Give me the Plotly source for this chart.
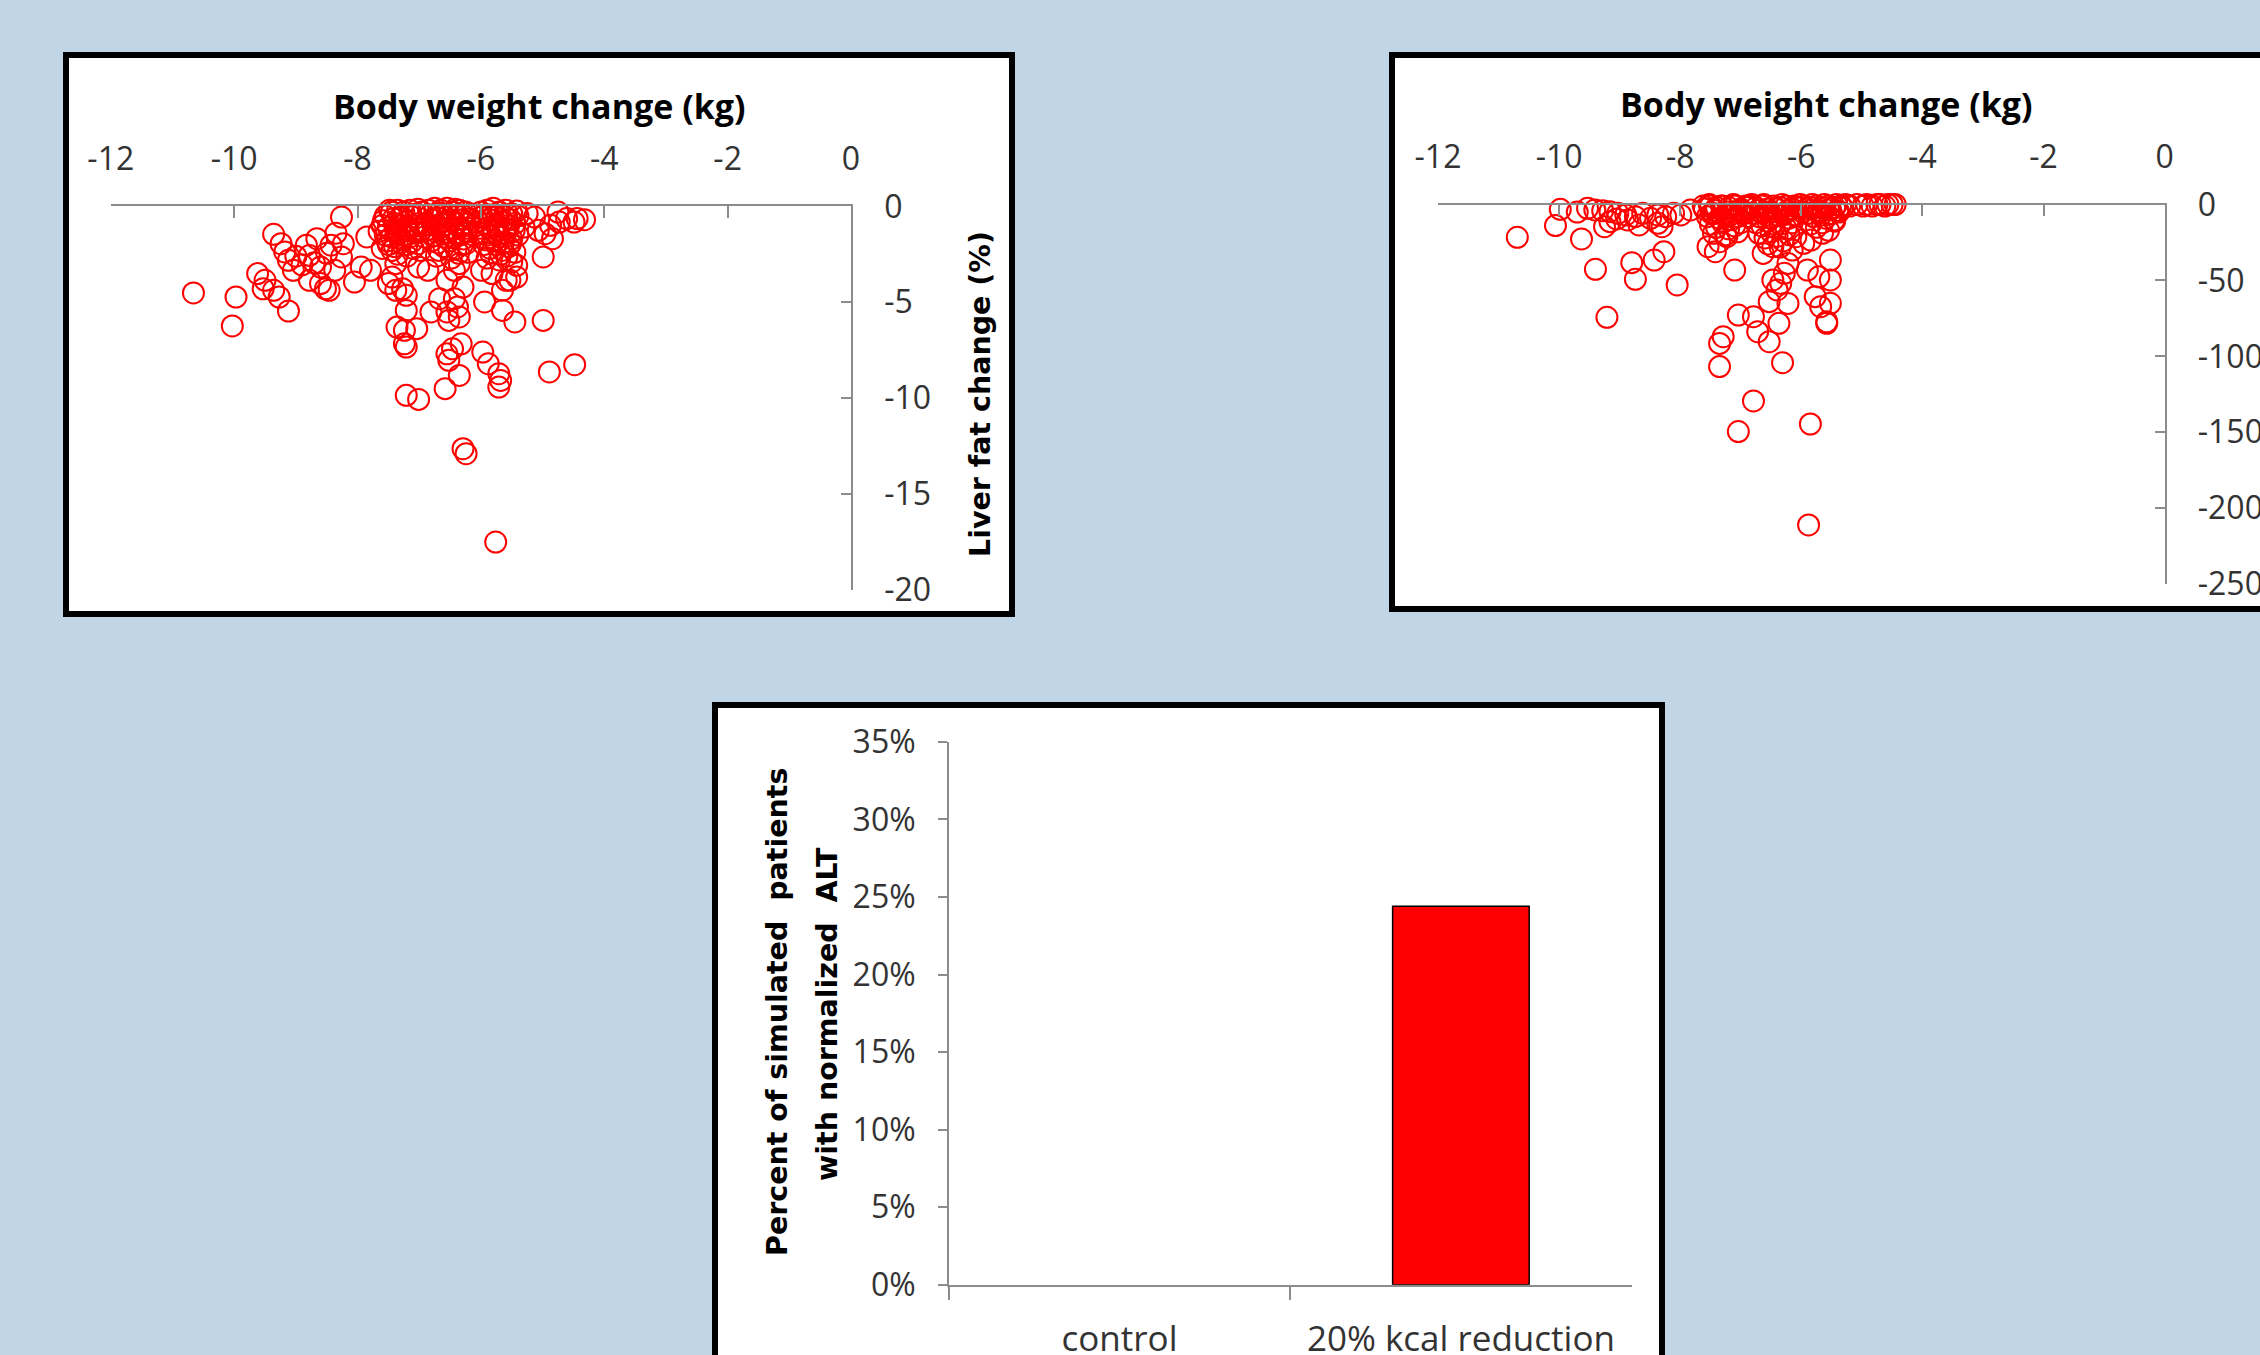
import plotly.graph_objects as go

W, H = 2260, 1355

# ---- Panel A: liver fat change (%) vs body weight change (kg) ----
wt_a = [
    # left spread
    -10.66, -9.97, -10.03, -9.36, -9.24, -9.18, -9.12, -9.04, -9.62, -9.50, -9.53, -9.36,
    -9.27, -9.12, -8.83, -8.66, -8.78, -8.60, -8.78, -8.60, -8.52, -8.46, -8.43, -8.26,
    -8.23, -8.26, -8.37, -8.05, -7.85, -7.94, -7.79, -9.00, -8.90, -8.50, -8.35, -8.70,
    # cluster near -7.3 kg
    -7.55, -7.45, -7.35, -7.25, -7.15, -7.05, -6.95, -7.60, -7.50, -7.40, -7.30, -7.20,
    -7.10, -7.00, -7.55, -7.45, -7.35, -7.25, -7.15, -7.05, -7.50, -7.40, -7.30, -7.20,
    -7.10, -7.35, -7.20, -6.98, -7.65, -7.42, -7.18, -7.28, -6.92,
    -7.48, -7.32, -7.12, -7.02, -7.58, -7.38, -7.22, -7.08, -6.96, -7.52, -7.28, -7.12,
    -7.44, -7.02, -7.60,
    # cluster near -6.5 kg
    -6.85, -6.75, -6.65, -6.55, -6.45, -6.35, -6.25, -6.15, -6.80, -6.70, -6.60, -6.50,
    -6.40, -6.30, -6.20, -6.85, -6.75, -6.65, -6.55, -6.45, -6.35, -6.25, -6.80, -6.70,
    -6.60, -6.50, -6.40, -6.30, -6.20, -6.72, -6.48, -6.62, -6.38, -6.58,
    -6.82, -6.68, -6.52, -6.42, -6.28, -6.18, -6.88, -6.72, -6.56, -6.34, -6.22, -6.78,
    -6.62, -6.44, -6.28, -6.12, -6.68, -6.52, -6.36, -6.24,
    # cluster near -5.7 kg
    -6.00, -5.90, -5.80, -5.70, -5.60, -5.50, -5.40, -6.05, -5.95, -5.85, -5.75, -5.65,
    -5.55, -5.45, -6.00, -5.90, -5.80, -5.70, -5.60, -5.50, -5.40, -5.95, -5.85, -5.75,
    -5.65, -5.55, -5.45, -5.90, -5.70, -5.50, -5.80, -5.60,
    -5.98, -5.86, -5.74, -5.62, -5.52, -5.42, -6.02, -5.88, -5.72, -5.58, -5.46, -5.92,
    -5.78, -5.64, -5.52, -5.84, -5.68, -5.58,
    # right tail
    -5.13, -5.07, -4.96, -4.87, -4.75, -4.73, -4.61, -4.49, -4.44, -4.32, -4.84, -5.25, -5.30,
    # deeper responders
    -4.99, -4.99, -4.89, -4.48, -5.45, -5.65, -5.42, -5.59, -5.71, -5.68, -5.71, -5.88,
    -5.97, -6.58, -6.35, -6.52, -6.55, -6.46, -6.32, -7.21, -7.01, -6.29, -6.24, -5.76,
    -7.24, -7.24, -7.21, -7.04, -7.36, -6.81, -6.55, -6.52, -6.35, -6.67, -6.43, -6.38,
    -7.21, -7.21, -7.38, -7.50, -7.27, -5.94, -5.65, -5.53, -5.42, -5.82, -5.99, -6.86,
    -7.01, -7.38, -7.44, -6.43, -6.35, -6.55, -6.29,
]
fat_a = [
    -4.52, -4.73, -6.24, -1.46, -1.95, -2.38, -2.82, -3.34, -3.51, -3.86, -4.30, -4.38,
    -4.73, -5.46, -2.03, -1.69, -2.56, -3.17, -3.86, -4.03, -4.30, -4.38, -2.03, -0.56,
    -1.95, -2.64, -3.34, -3.95, -1.60, -3.17, -3.34, -2.60, -3.05, -2.45, -1.40, -2.95,
    -0.5, -0.3, -0.2, -0.3, -0.2, -0.4, -0.3, -1.0, -1.1, -0.9, -1.0, -0.8,
    -1.0, -0.9, -1.5, -1.6, -1.4, -1.5, -1.6, -1.4, -2.0, -2.1, -1.9, -2.0,
    -2.2, -2.5, -2.6, -2.3, -1.3, -0.65, -1.25, -0.55, -1.6,
    -0.2, -0.6, -0.55, -0.15, -0.75, -1.25, -1.1, -1.3, -1.05, -1.8, -1.75, -1.85,
    -2.3, -1.95, -2.2,
    -0.2, -0.1, -0.2, -0.1, -0.3, -0.2, -0.3, -0.4, -0.7, -0.6, -0.8, -0.7,
    -0.9, -0.7, -0.9, -1.2, -1.3, -1.1, -1.4, -1.2, -1.5, -1.3, -1.8, -1.9,
    -2.1, -1.8, -2.2, -2.0, -2.4, -2.6, -2.7, -0.4, -0.5, -1.6,
    -0.45, -0.35, -0.45, -0.15, -0.5, -0.65, -0.95, -1.0, -0.95, -1.1, -1.15, -1.55,
    -1.45, -1.65, -1.7, -1.5, -2.3, -2.25, -2.45, -1.95,
    -0.3, -0.2, -0.1, -0.3, -0.2, -0.4, -0.5, -0.8, -0.9, -0.7, -1.0, -0.8,
    -1.0, -0.9, -1.4, -1.5, -1.3, -1.6, -1.4, -1.7, -1.5, -2.0, -2.2, -2.0,
    -2.3, -2.1, -2.4, -2.7, -2.8, -2.9, -0.5, -1.2,
    -0.55, -0.45, -0.55, -0.5, -0.7, -0.25, -1.15, -1.1, -1.25, -1.15, -1.25, -1.75,
    -1.8, -1.9, -1.95, -2.45, -2.5, -2.6,
    -0.56, -1.25, -1.43, -0.99, -0.30, -0.82, -0.64, -0.82, -0.64, -0.70, -1.69, -0.38, -1.08,
    -2.64, -5.95, -8.64, -8.26, -6.03, -5.43, -3.08, -3.86, -8.73, -9.08, -9.43, -8.21,
    -7.60, -9.51, -8.82, -8.03, -7.69, -7.43, -7.17, -9.86, -10.07, -12.64, -12.90, -17.51,
    -6.47, -7.17, -7.34, -6.38, -6.30, -5.51, -5.51, -5.95, -5.77, -4.82, -4.82, -5.25,
    -5.43, -4.64, -4.38, -4.03, -4.30, -4.99, -4.38, -3.86, -3.69, -3.51, -3.34, -3.34,
    -3.17, -2.99, -3.69, -3.34, -2.99, -3.86, -4.21,
]

# ---- Panel B: second outcome vs body weight change (kg) ----
wt_b = [
    # left spread and the row along zero
    -10.69, -10.06, -9.98, -9.63, -9.40, -9.21, -8.80, -8.74, -8.43, -8.27, -8.05, -9.25, -8.68,
    -9.53, -9.41, -9.28, -9.16, -9.03, -8.90, -8.74, -8.62, -8.49, -8.37, -8.24, -8.11, -7.99, -7.83,
    -9.16, -8.37, -8.87, -8.30, -9.70, -9.05,
    # cluster near -7.3 kg
    -7.60, -7.50, -7.40, -7.30, -7.20, -7.10, -7.00, -6.90, -7.55, -7.45, -7.35, -7.25,
    -7.15, -7.05, -6.95, -7.50, -7.40, -7.30, -7.20, -7.10, -7.00, -7.45, -7.25, -7.05,
    # cluster near -6.5 kg
    -6.85, -6.75, -6.65, -6.55, -6.45, -6.35, -6.25, -6.15, -6.05, -6.80, -6.70, -6.60,
    -6.50, -6.40, -6.30, -6.20, -6.10, -6.75, -6.65, -6.55, -6.45, -6.35, -6.25, -6.15,
    -6.70, -6.60, -6.50, -6.40, -6.30, -6.20, -6.55, -6.35,
    # cluster near -5.7 kg
    -5.95, -5.85, -5.75, -5.65, -5.55, -5.45, -5.35, -5.90, -5.80, -5.70, -5.60, -5.50,
    -5.40, -5.85, -5.75, -5.65, -5.55, -5.45,
    # dense row hugging zero
    -7.62, -7.52, -7.42, -7.32, -7.22, -7.12, -7.02, -6.92, -6.82, -6.72, -6.62, -6.52,
    -6.42, -6.32, -6.22, -6.12, -6.02, -5.92, -5.82, -5.72, -5.62, -5.52, -5.42, -5.32,
    -7.48, -7.18, -6.88, -6.58, -6.28, -5.98, -5.68, -5.38,
    # right tail
    -5.27, -5.20, -5.08, -4.98, -4.92, -4.83, -4.75, -4.70, -4.62, -4.57, -4.50, -4.45,
    # deeper responders
    -7.10, -7.54, -7.42, -7.35, -7.23, -7.04, -7.29, -7.35, -7.35, -6.79, -7.04, -5.85,
    -5.88, -6.79, -6.72, -6.53, -6.31, -6.37, -6.53, -6.47, -6.40, -6.34, -6.22, -6.28,
    -6.22, -6.63, -6.47, -6.15, -5.90, -5.71, -5.52, -5.52, -5.77, -5.52, -5.58, -5.58,
    -5.68, -5.84, -5.65, -5.46, -5.96, -6.09,
]
chg_b = [
    -21.6, -13.9, -3.2, -22.7, -42.7, -74.3, -38.3, -49.3, -36.6, -31.1, -53.0, -14.6, -13.5,
    -2.5, -3.6, -4.1, -4.7, -5.8, -6.9, -8.0, -5.8, -9.1, -6.9, -8.0, -5.8, -6.9, -3.6,
    -11.3, -12.4, -10.2, -14.6, -5.0, -9.5,
    -3, -1, -2, -1, -2, -1, -3, -2, -8, -6, -9, -7,
    -10, -8, -6, -13, -15, -12, -16, -14, -12, -19, -20, -18,
    -1, -2, -1, -3, -1, -2, -1, -3, -2, -6, -8, -5,
    -9, -7, -6, -9, -7, -12, -14, -11, -15, -13, -16, -12,
    -19, -22, -18, -21, -24, -20, -26, -28,
    -1, -2, -1, -2, -1, -2, -1, -6, -8, -5, -9, -6,
    -4, -13, -15, -12, -17, -11,
    -1, 0, -4, -1, -5, 0, -4, -1, 0, -4, 0, -5,
    -3, 0, -4, -1, 0, -3, 0, -4, 0, -3, 0, -2,
    -6, -7, -8, -7, -6, -5, -7, -5,
    0, -1, 0, -1, 0, -1, 0, 0, -1, 0, 0, 0,
    -43.2, -27.8, -31.1, -24.5, -21.2, -72.8, -87.1, -91.5, -106.8, -129.4, -149.6, -144.6,
    -211.1, -73.9, -83.8, -90.4, -104.2, -78.3, -64.0, -49.7, -56.3, -51.9, -65.2, -45.3,
    -38.8, -32.2, -27.8, -30.0, -43.2, -47.6, -36.6, -49.7, -60.7, -65.1, -77.2, -78.3,
    -67.3, -23.4, -19.0, -10.2, -25.6, -21.2,
]

# ---- Panel C: share of simulated patients with normalized ALT ----
groups = ["control", "20% kcal reduction"]
pct_normal = [0.0, 0.244]

# ---- tick labels ----
wt_ticks = [-12, -10, -8, -6, -4, -2, 0]
wt_ticktext = ["-12", "-10", "-8", "-6", "-4", "-2", "0"]
fat_ticks = [0, -5, -10, -15, -20]
fat_ticktext = ["0", "-5", "-10", "-15", "-20"]
chg_ticks = [0, -50, -100, -150, -200, -250]
chg_ticktext = ["0", "-50", "-100", "-150", "-200", "-250"]
pct_ticks = [0, 0.05, 0.10, 0.15, 0.20, 0.25, 0.30, 0.35]
pct_ticktext = ["0%", "5%", "10%", "15%", "20%", "25%", "30%", "35%"]

assert len(wt_a) == len(fat_a)
assert len(wt_b) == len(chg_b)


def fx(px):
    return px / W


def fy(py):
    return 1 - py / H


RED = "#FF0000"
AXIS = "#8C8C8C"
TICKFONT = dict(family="Open Sans", size=32, color="#333333")
TITLEFONT = dict(family="Open Sans", size=34, color="#000000", weight="bold")
VTITLEFONT = dict(family="DejaVu Sans", size=28.5, color="#000000", weight="bold")

marker = dict(symbol="circle-open", size=21, color=RED, line=dict(width=2, color=RED))

fig = go.Figure()
fig.add_trace(go.Scatter(x=wt_a, y=fat_a, mode="markers", marker=marker,
                         xaxis="x", yaxis="y", cliponaxis=False, hoverinfo="x+y"))
fig.add_trace(go.Scatter(x=wt_b, y=chg_b, mode="markers", marker=marker,
                         xaxis="x2", yaxis="y2", cliponaxis=False, hoverinfo="x+y"))
fig.add_trace(go.Bar(x=groups, y=pct_normal, xaxis="x3", yaxis="y3",
                     marker=dict(color=RED, line=dict(color="#000000", width=[0, 1.5])),
                     width=0.4))

common = dict(showgrid=False, zeroline=False, showline=True, linecolor=AXIS, linewidth=1.5,
              tickcolor=AXIS, tickwidth=1.5, tickfont=TICKFONT, fixedrange=True,
              automargin=False)

fig.update_layout(
    width=W, height=H,
    margin=dict(l=0, r=0, t=0, b=0, pad=0, autoexpand=False),
    paper_bgcolor="#C0D5E6",
    plot_bgcolor="rgba(0,0,0,0)",
    showlegend=False,
    xaxis=dict(domain=[fx(110.8), fx(851)], anchor="y", range=[-12, 0], side="top",
               ticks="inside", ticklen=12, tickvals=wt_ticks, ticktext=wt_ticktext,
               ticklabelstandoff=22, **common),
    yaxis=dict(domain=[fy(589.8), fy(206.3)], anchor="x", range=[-20, 0], side="right",
               ticks="inside", ticklen=10, tickvals=fat_ticks, ticktext=fat_ticktext,
               ticklabelstandoff=25, **common),
    xaxis2=dict(domain=[fx(1438), fx(2164.6)], anchor="y2", range=[-12, 0], side="top",
                ticks="inside", ticklen=12, tickvals=wt_ticks, ticktext=wt_ticktext,
                ticklabelstandoff=22, **common),
    yaxis2=dict(domain=[fy(584), fy(204.5)], anchor="x2", range=[-250, 0], side="right",
                ticks="inside", ticklen=10, tickvals=chg_ticks, ticktext=chg_ticktext,
                ticklabelstandoff=25, **common),
    xaxis3=dict(domain=[fx(948.8), fx(1631.6)], anchor="y3", type="category",
                range=[-0.5, 1.5], ticks="outside", ticklen=13, tickson="boundaries",
                ticklabelstandoff=22,
                **{**common, "tickfont": dict(family="Open Sans", size=35, color="#333333")}),
    yaxis3=dict(domain=[fy(1284.8), fy(741.8)], anchor="x3", range=[0, 0.35],
                ticks="outside", ticklen=9, tickvals=pct_ticks, ticktext=pct_ticktext,
                ticklabelstandoff=16, **common),
    bargap=0.6,
)

# white chart panels with heavy black frames
for x0, y0, x1, y1 in [(66, 55, 1012, 614), (1392, 55, 2300, 609), (715, 705, 1662, 1400)]:
    fig.add_shape(type="rect", xref="paper", yref="paper",
                  x0=fx(x0), x1=fx(x1), y0=fy(y1), y1=fy(y0),
                  fillcolor="#FFFFFF", line=dict(color="#000000", width=6), layer="below")

annotations = [
    dict(text="Body weight change (kg)", x=fx(539), y=fy(106), font=TITLEFONT),
    dict(text="Body weight change (kg)", x=fx(1826), y=fy(104), font=TITLEFONT),
    dict(text="Liver fat change (%)", x=fx(980), y=fy(394), font=VTITLEFONT, textangle=-90),
    dict(text="Percent of simulated\u00a0 patients", x=fx(777), y=fy(1012),
         font=VTITLEFONT, textangle=-90),
    dict(text="with normalized\u00a0 ALT", x=fx(827), y=fy(1014),
         font=VTITLEFONT, textangle=-90),
]
for a in annotations:
    fig.add_annotation(xref="paper", yref="paper", showarrow=False,
                       xanchor="center", yanchor="middle", **a)

fig.write_html("out.html")
